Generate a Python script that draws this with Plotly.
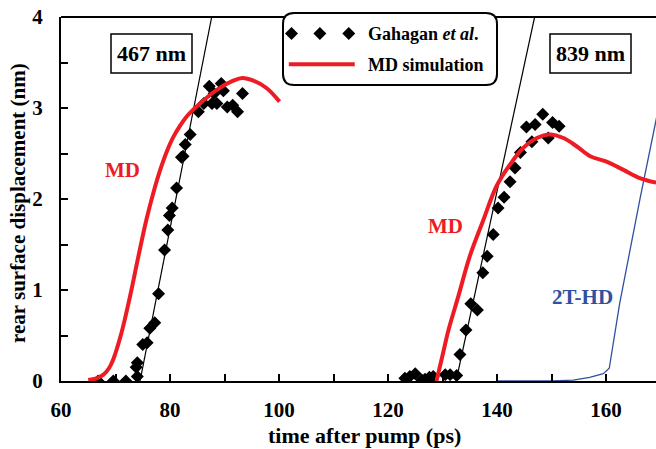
import plotly.graph_objects as go

# ---- data ----
gah467_x = [66.8, 69.6, 71.9, 74.0, 73.8, 74.0, 75.0, 75.8, 76.3, 77.2, 77.9, 79.0, 79.6, 79.9, 80.4, 81.2,
            82.1, 82.4, 82.8, 83.7, 85.2, 86.2, 87.2, 87.7, 88.1, 88.6, 89.4, 89.8, 90.5, 91.5, 92.4, 93.3]
gah467_y = [0.0, 0.0, 0.0, 0.05, 0.15, 0.2, 0.4, 0.42, 0.58, 0.64, 0.96, 1.44, 1.66, 1.82, 1.90, 2.12,
            2.46, 2.47, 2.60, 2.71, 2.96, 3.05, 3.24, 3.05, 3.16, 3.05, 3.27, 3.19, 3.01, 3.03, 2.96, 3.16]

gah839_x = [123.1, 124.0, 125.0, 126.2, 126.8, 127.6, 128.3, 130.5, 131.4, 132.6, 133.2, 134.3, 135.2, 136.4,
            137.4, 138.2, 139.3, 140.2, 141.3, 142.4, 143.3, 144.3, 145.4, 146.4, 147.0, 148.4, 149.4, 150.2, 151.4]
gah839_y = [0.03, 0.05, 0.08, 0.01, 0.02, 0.04, 0.05, 0.07, 0.07, 0.06, 0.29, 0.56, 0.85, 0.78,
            1.19, 1.37, 1.61, 1.90, 2.02, 2.19, 2.34, 2.51, 2.79, 2.63, 2.82, 2.93, 2.67, 2.84, 2.80]

fit467_x = [74.5, 87.65]
fit467_y = [0.0, 4.0]
fit839_x = [132.5, 146.9]
fit839_y = [0.0, 4.0]

md467_x = [65.0, 66.5, 67.8, 68.8, 69.6, 71.1, 72.7, 74.2, 75.7, 77.0, 78.2, 79.4, 80.6, 81.8, 83.1,
           85.5, 88.6, 91.6, 93.3, 95.3, 97.7, 100.1]
md467_y = [0.01, 0.03, 0.07, 0.14, 0.24, 0.53, 0.94, 1.37, 1.78, 2.08, 2.32, 2.52, 2.68, 2.80, 2.91,
           3.05, 3.20, 3.30, 3.33, 3.30, 3.22, 3.07]

md839_x = [128.9, 130.0, 131.1, 132.9, 135.0, 137.5, 139.9, 142.4, 144.8, 147.3, 149.7, 152.2, 154.6,
           157.1, 160.1, 163.2, 166.2, 169.2]
md839_y = [0.0, 0.28, 0.56, 0.93, 1.37, 1.77, 2.14, 2.38, 2.56, 2.67, 2.71, 2.67, 2.58,
           2.47, 2.41, 2.32, 2.23, 2.18]

hd_x = [140, 150, 154, 157, 159.5, 160.6, 162.5, 166.2, 169.5]
hd_y = [0, 0, 0.01, 0.04, 0.08, 0.14, 0.85, 1.99, 2.96]

# legend sample positions (data coords)
leg_dia_x = [102.3, 107.5, 112.8]
leg_dia_y = [3.82, 3.82, 3.82]
leg_line_x = [101.8, 113.9]
leg_line_y = [3.48, 3.48]

RED = "#ed1c24"
BLUE = "#3050a0"
FONT = "Liberation Serif"

L, T, B = 61, 17, 68
W, H = 656, 449
PW, PH = W - L, H - T - B


def px(x):
    return (x - L) / PW


def py(y):
    return (H - B - y) / PH


fig = go.Figure()

fig.add_trace(go.Scatter(x=fit467_x, y=fit467_y, mode="lines", line=dict(color="black", width=1.2), showlegend=False))
fig.add_trace(go.Scatter(x=fit839_x, y=fit839_y, mode="lines", line=dict(color="black", width=1.2), showlegend=False))
fig.add_trace(go.Scatter(x=hd_x, y=hd_y, mode="lines", line=dict(color=BLUE, width=1.3), showlegend=False))
fig.add_trace(go.Scatter(x=gah467_x, y=gah467_y, mode="markers",
                         marker=dict(symbol="diamond", size=10, color="black"), showlegend=False))
fig.add_trace(go.Scatter(x=gah839_x, y=gah839_y, mode="markers",
                         marker=dict(symbol="diamond", size=10, color="black"), showlegend=False))
fig.add_trace(go.Scatter(x=md467_x, y=md467_y, mode="lines", line=dict(color=RED, width=4, shape="spline"),
                         showlegend=False))
fig.add_trace(go.Scatter(x=md839_x, y=md839_y, mode="lines", line=dict(color=RED, width=4, shape="spline"),
                         showlegend=False))
# legend samples
fig.add_trace(go.Scatter(x=leg_dia_x, y=leg_dia_y, mode="markers",
                         marker=dict(symbol="diamond", size=10, color="black"), showlegend=False))
fig.add_trace(go.Scatter(x=leg_line_x, y=leg_line_y, mode="lines", line=dict(color=RED, width=4), showlegend=False))

# rounded legend box
x0, x1, y0, y1 = px(283), px(497), py(85), py(13)
rx, ry = 11 / PW, 11 / PH
path = (f"M {x0+rx},{y1} L {x1-rx},{y1} Q {x1},{y1} {x1},{y1-ry} L {x1},{y0+ry} Q {x1},{y0} {x1-rx},{y0} "
        f"L {x0+rx},{y0} Q {x0},{y0} {x0},{y0+ry} L {x0},{y1-ry} Q {x0},{y1} {x0+rx},{y1} Z")

shapes = [
    dict(type="line", xref="paper", yref="paper", x0=0, x1=1, y0=1, y1=1, line=dict(color="black", width=2),
         layer="below"),
    dict(type="path", xref="paper", yref="paper", path=path, fillcolor="white", line=dict(color="black", width=2),
         layer="below"),
    dict(type="rect", xref="paper", yref="paper", x0=px(111), x1=px(192), y0=py(73), y1=py(34),
         line=dict(color="black", width=1.5), fillcolor="white", layer="below"),
    dict(type="rect", xref="paper", yref="paper", x0=px(550), x1=px(631), y0=py(73), y1=py(34),
         line=dict(color="black", width=1.5), fillcolor="white", layer="below"),
]


def ann(x, y, text, size, color="black", xanchor="center", textangle=0):
    return dict(xref="paper", yref="paper", x=px(x), y=py(y), text=text, showarrow=False,
                xanchor=xanchor, yanchor="middle", textangle=textangle,
                font=dict(family=FONT, size=size, color=color))


annotations = [
    ann(366, 34, "<b>Gahagan <i>et al</i>.</b>", 18, xanchor="left"),
    ann(366, 65, "<b>MD simulation</b>", 18, xanchor="left"),
    ann(151.5, 54, "<b>467 nm</b>", 22),
    ann(590.5, 54, "<b>839 nm</b>", 22),
    ann(122, 170, "<b>MD</b>", 21, RED),
    ann(445, 226, "<b>MD</b>", 21, RED),
    ann(582, 297, "<b>2T-HD</b>", 21, BLUE),
    ann(364, 436, "<b>time after pump (ps)</b>", 22),
    ann(18, 203, "<b>rear surface displacement (nm)</b>", 21, textangle=-90),
]

fig.update_layout(
    width=W, height=H,
    margin=dict(l=L, r=0, t=T, b=B, pad=0),
    plot_bgcolor="white", paper_bgcolor="white",
    showlegend=False,
    shapes=shapes,
    annotations=annotations,
    xaxis=dict(range=[60, 60 + PW / 5.45], tickvals=[60, 70, 80, 90, 100, 110, 120, 130, 140, 150, 160, 170],
               ticktext=["60", "", "80", "", "100", "", "120", "", "140", "", "160", ""],
               ticks="inside", ticklen=7, tickwidth=1.5, tickcolor="black",
               showline=True, linecolor="black", linewidth=2, mirror=False,
               showgrid=False, zeroline=False, ticklabelstandoff=9,
               tickfont=dict(family=FONT, size=21, color="black", weight="bold")),
    yaxis=dict(range=[0, 4], tickvals=[0, 0.5, 1, 1.5, 2, 2.5, 3, 3.5, 4],
               ticktext=["0", "", "1", "", "2", "", "3", "", "4"],
               ticks="inside", ticklen=7, tickwidth=1.5, tickcolor="black",
               showline=True, linecolor="black", linewidth=2, mirror=False,
               showgrid=False, zeroline=False, ticklabelstandoff=12,
               tickfont=dict(family=FONT, size=21, color="black", weight="bold")),
)

fig.write_html("out.html", config={"displayModeBar": False},
               post_script="document.body.style.margin='0';document.body.style.padding='0';")
